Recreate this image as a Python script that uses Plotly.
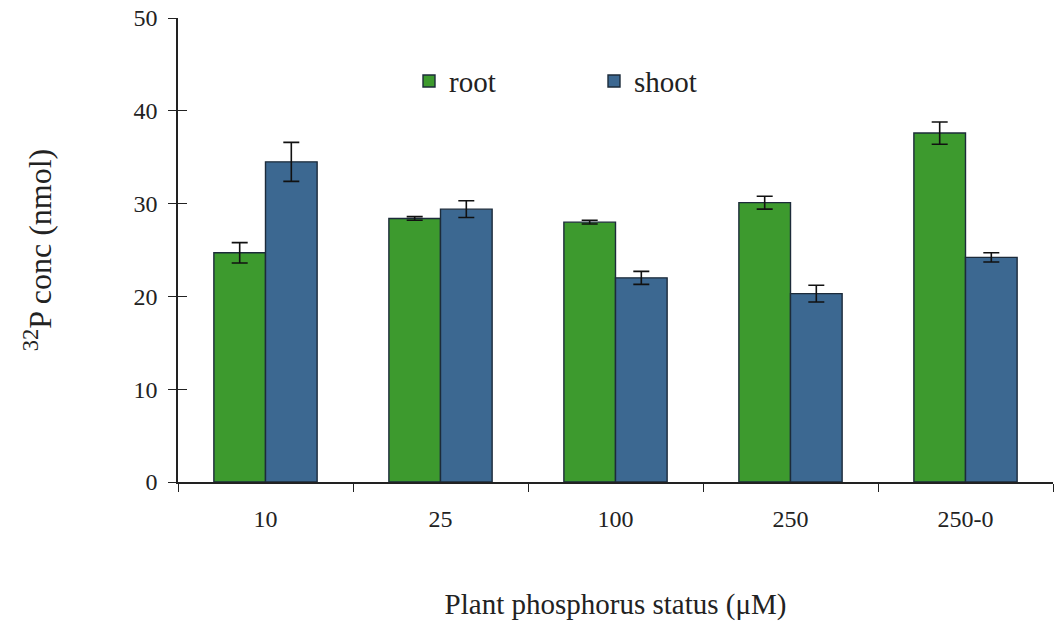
import plotly.graph_objects as go

categories = ["10", "25", "100", "250", "250-0"]
root_vals = [24.7, 28.4, 28.0, 30.1, 37.6]
root_err = [1.1, 0.2, 0.2, 0.7, 1.2]
shoot_vals = [34.5, 29.4, 22.0, 20.3, 24.2]
shoot_err = [2.1, 0.9, 0.7, 0.9, 0.5]
y_ticks = [0, 10, 20, 30, 40, 50]

GREEN = "#3d9a2e"
BLUE = "#3c6891"
EDGE = "#1c2b3a"
FONT = "Liberation Serif, Times New Roman, serif"

fig = go.Figure()
fig.add_trace(go.Bar(
    x=categories, y=root_vals, name="root",
    marker=dict(color=GREEN, line=dict(color=EDGE, width=1.4)),
    error_y=dict(type="data", array=root_err, visible=True,
                 color="#111111", thickness=1.6, width=8),
))
fig.add_trace(go.Bar(
    x=categories, y=shoot_vals, name="shoot",
    marker=dict(color=BLUE, line=dict(color=EDGE, width=1.4)),
    error_y=dict(type="data", array=shoot_err, visible=True,
                 color="#111111", thickness=1.6, width=8),
))
# invisible trace on overlay axis to make inward-facing ticks render
fig.add_trace(go.Scatter(x=[categories[0]], y=[0], yaxis="y2", mode="markers",
                         marker=dict(opacity=0), showlegend=False, hoverinfo="skip"))

fig.update_layout(
    width=1055, height=630,
    margin=dict(l=178, r=2, t=18, b=148),
    paper_bgcolor="white", plot_bgcolor="white",
    barmode="group", bargap=0.41, bargroupgap=0,
    font=dict(family=FONT, color="#222222", size=24),
    showlegend=True,
    legend=dict(orientation="h", x=0.264, y=0.864, xanchor="left", yanchor="middle",
                font=dict(family=FONT, size=29, color="#222222"),
                entrywidth=140, bgcolor="rgba(0,0,0,0)", traceorder="normal"),
    xaxis=dict(
        type="category", categoryorder="array", categoryarray=categories,
        showline=True, linecolor="#222222", linewidth=1.5,
        ticks="outside", ticklen=8, tickwidth=1.3, tickcolor="#222222",
        tickson="boundaries", showgrid=False, zeroline=False,
        ticklabelstandoff=14,
        tickfont=dict(family=FONT, size=24, color="#222222"),
        title=dict(text="Plant phosphorus status (μM)",
                   font=dict(family=FONT, size=29, color="#222222"), standoff=63),
    ),
    yaxis=dict(
        range=[0, 50], tickvals=y_ticks, showline=True, linecolor="#222222", linewidth=1.5,
        ticks="outside", ticklen=8, tickwidth=1.3, tickcolor="#222222",
        showgrid=False, zeroline=False, ticklabelstandoff=6,
        tickfont=dict(family=FONT, size=24, color="#222222"),
        title=dict(text="<sup>32</sup>P conc (nmol)",
                   font=dict(family=FONT, size=32, color="#222222"), standoff=72),
    ),
    yaxis2=dict(
        range=[0, 50], tickvals=y_ticks, overlaying="y", side="left",
        ticks="inside", ticklen=9, tickwidth=1.3, tickcolor="#222222",
        showticklabels=False, showgrid=False, zeroline=False, showline=False,
    ),
)

fig.write_html("out.html")
